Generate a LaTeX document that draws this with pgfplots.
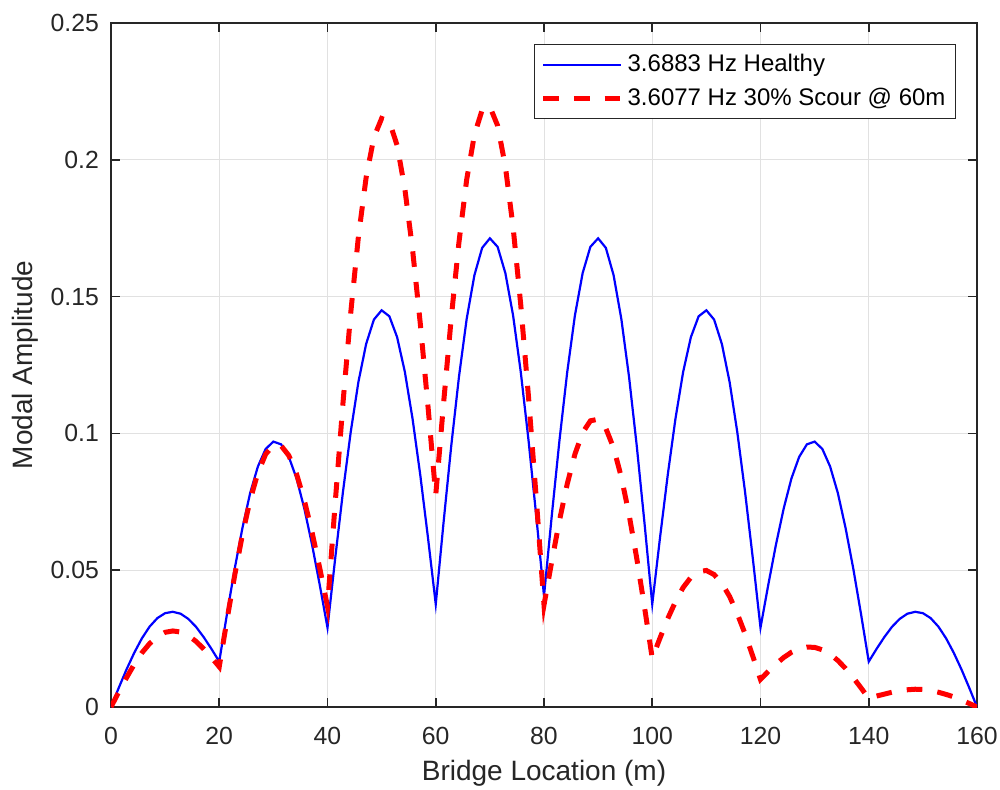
\documentclass[border=0pt]{standalone}
\usepackage{fontspec}
\setmainfont{Liberation Sans}
\usepackage{pgfplots}
\usepackage{pgfplotstable}
\pgfplotsset{compat=1.18}
\definecolor{axgray}{RGB}{38,38,38}
\definecolor{gridgray}{RGB}{225,225,225}

% x = bridge location (m), h = healthy, s = 30% scour @ 60m
\pgfplotstableread{
x h s
0 0 0
1.43 .0070 .0055
2.86 .0137 .0107
4.29 .0198 .0156
5.71 .0251 .0198
7.14 .0294 .0232
8.57 .0325 .0257
10 .0343 .0273
11.43 .0348 .0278
12.86 .0341 .0274
14.29 .0322 .0261
15.71 .0293 .0240
17.14 .0255 .0212
18.57 .0212 .0181
20 .0166 .0147
21.43 .0340 .0319
22.86 .0506 .0482
24.29 .0655 .0631
25.71 .0782 .0757
27.14 .0879 .0856
28.57 .0943 .0924
30 .0970 .0957
31.43 .0960 .0955
32.86 .0914 .0919
34.29 .0835 .0851
35.71 .0726 .0756
37.14 .0594 .0639
38.57 .0446 .0507
40 .0290 .0367
41.43 .0545 .0748
42.86 .0787 .1111
44.29 .1005 .1440
45.71 .1188 .1719
47.14 .1327 .1936
48.57 .1416 .2082
50 .1450 .2151
51.43 .1428 .2140
52.86 .1352 .2053
54.29 .1225 .1894
55.71 .1054 .1673
57.14 .0848 .1402
58.57 .0618 .1098
60 .0376 .0775
61.43 .0672 .1107
62.86 .0954 .1421
64.29 .1207 .1699
65.71 .1418 .1927
67.14 .1578 .2091
68.57 .1678 .2182
70 .1713 .2194
71.43 .1682 .2125
72.86 .1586 .1976
74.29 .1431 .1754
75.71 .1224 .1469
77.14 .0975 .1133
78.57 .0698 .0762
80 .0406 .0373
81.43 .0698 .0532
82.86 .0975 .0682
84.29 .1224 .0815
85.71 .1431 .0924
87.14 .1586 .1003
88.57 .1682 .1046
90 .1713 .1052
91.43 .1678 .1018
92.86 .1578 .0947
94.29 .1418 .0840
95.71 .1207 .0704
97.14 .0954 .0543
98.57 .0672 .0365
100 .0376 .0178
101.43 .0618 .0252
102.86 .0848 .0323
104.29 .1054 .0385
105.71 .1225 .0437
107.14 .1352 .0474
108.57 .1428 .0495
110 .1450 .0499
111.43 .1416 .0484
112.86 .1327 .0452
114.29 .1188 .0404
115.71 .1005 .0341
117.14 .0787 .0268
118.57 .0545 .0186
120 .0290 .0101
121.43 .0446 .0130
122.86 .0594 .0157
124.29 .0726 .0181
125.71 .0835 .0200
127.14 .0914 .0213
128.57 .0960 .0219
130 .0970 .0218
131.43 .0943 .0209
132.86 .0879 .0193
134.29 .0782 .0170
135.71 .0655 .0141
137.14 .0506 .0107
138.57 .0340 .0070
140 .0166 .0031
141.43 .0212 .0040
142.86 .0255 .0047
144.29 .0293 .0054
145.71 .0322 .0060
147.14 .0341 .0063
148.57 .0348 .0065
150 .0343 .0064
151.43 .0325 .0060
152.86 .0294 .0054
154.29 .0251 .0046
155.71 .0198 .0037
157.14 .0137 .0025
158.57 .0070 .0013
160 0 0
}\modeshape

\begin{document}
\begin{tikzpicture}
\path[use as bounding box] (-55.5pt,-41pt) rectangle (444.5pt,353.5pt);
\begin{axis}[
    at={(0,0)}, anchor=south west,
    scale only axis, width=433pt, height=342pt,
    xmin=0, xmax=160, ymin=0, ymax=0.25,
    xtick={0,20,...,160},
    ytick={0,0.05,0.1,0.15,0.2,0.25},
    yticklabels={0,0.05,0.1,0.15,0.2,0.25},
    scaled y ticks=false,
    /pgf/number format/assume math mode=true,
    tick label style={font=\fontsize{12.4}{14}\selectfont, text=axgray},
    xticklabel style={yshift=-6.8pt},
    yticklabel style={xshift=-2.5pt},
    label style={font=\fontsize{14}{16}\selectfont, text=axgray},
    xlabel={Bridge Location (m)},
    ylabel={Modal Amplitude},
    xlabel style={at={(axis description cs:0.5,-0.0965)}, anchor=center},
    ylabel style={at={(axis description cs:-0.0993,0.5)}, anchor=center},
    axis line style={draw=axgray, line width=0.8pt},
    tick style={draw=axgray, line width=0.8pt},
    tick align=inside, tick pos=both, major tick length=4.7pt,
    grid=major, grid style={draw=gridgray, line width=0.5pt},
    legend style={at={(axis description cs:1,1)}, anchor=north east,
        xshift=-10.5pt, yshift=-10.5pt, draw=axgray, line width=0.5pt,
        font=\fontsize{12}{14.4}\selectfont, row sep=2.5pt, inner sep=3pt},
    legend cell align=left,
    legend image code/.code={\draw[#1] (0pt,0pt) -- (39pt,0pt);},
]
\addplot[color=blue, line width=1.1pt] table[x=x, y=h] {\modeshape};
\addlegendentry{3.6883 Hz Healthy}
\addplot[color=red, line width=2.5pt, dash pattern=on 7.8pt off 7.6pt] table[x=x, y=s] {\modeshape};
\addlegendentry{3.6077 Hz 30\% Scour @ 60m}
\end{axis}
\end{tikzpicture}
\end{document}
